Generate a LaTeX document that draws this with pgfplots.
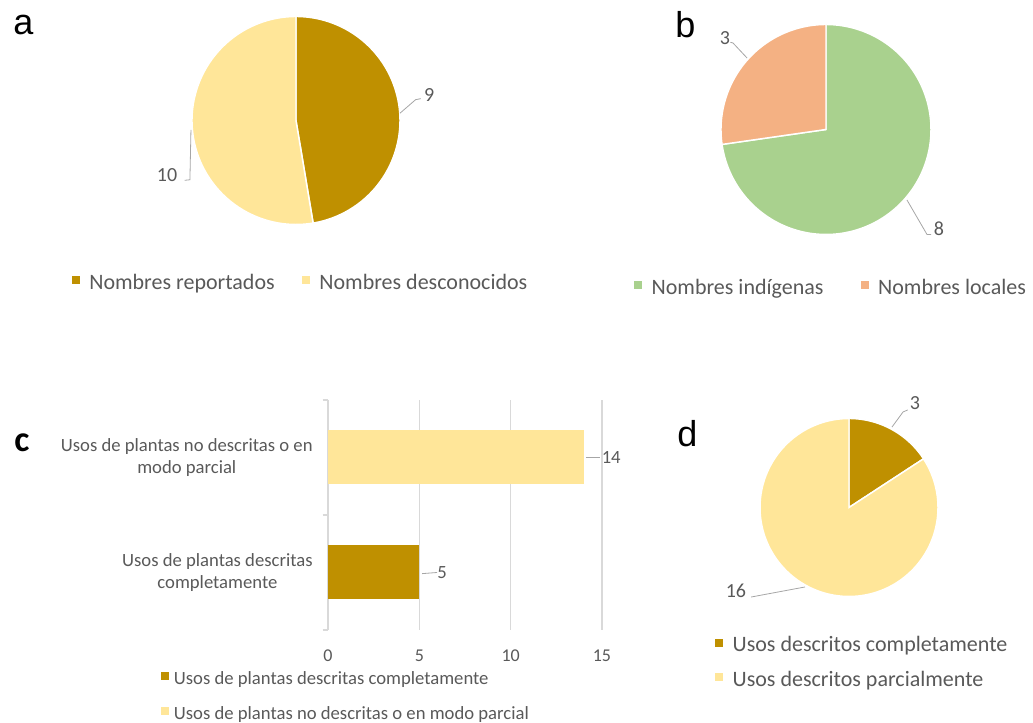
\documentclass[border=0pt]{standalone}
\usepackage{pgfplots}
\pgfplotsset{compat=1.18}
\usepackage{pgfplotstable}
\usepackage{fontspec}
\setmainfont{Carlito}
\newfontfamily\letra{Liberation Sans}

\definecolor{oro}{HTML}{BF9000}
\definecolor{crema}{HTML}{FFE699}
\definecolor{verde}{HTML}{A9D18E}
\definecolor{salmon}{HTML}{F4B183}
\definecolor{texto}{HTML}{595959}
\definecolor{guia}{HTML}{A6A6A6}
\definecolor{rejilla}{HTML}{D9D9D9}

% (a) nombres
\pgfplotstableread{
categoria valor
reportados 9
desconocidos 10
}\tablaA
% (b) tipo de nombre
\pgfplotstableread{
categoria valor
indigenas 8
locales 3
}\tablaB
% (d) usos
\pgfplotstableread{
categoria valor
completamente 3
parcialmente 16
}\tablaD

\pgfplotstablegetelem{0}{valor}\of\tablaA \let\aUno\pgfplotsretval
\pgfplotstablegetelem{1}{valor}\of\tablaA \let\aDos\pgfplotsretval
\pgfplotstablegetelem{0}{valor}\of\tablaB \let\bUno\pgfplotsretval
\pgfplotstablegetelem{1}{valor}\of\tablaB \let\bDos\pgfplotsretval
\pgfplotstablegetelem{0}{valor}\of\tablaD \let\dUno\pgfplotsretval
\pgfplotstablegetelem{1}{valor}\of\tablaD \let\dDos\pgfplotsretval
\pgfmathsetmacro\aTot{\aUno+\aDos}
\pgfmathsetmacro\bTot{\bUno+\bDos}
\pgfmathsetmacro\dTot{\dUno+\dDos}

\pgfplotsset{
  % square legend marker with room after it
  cuadro/.style={legend image code/.code={%
      \path[fill=#1, draw=none] (0pt,-1pt) rectangle (6pt,5pt);
      \path[fill=none, draw=none] (0pt,0pt) rectangle (11pt,4pt);}},
  cuadrito/.style={legend image code/.code={%
      \path[fill=#1, draw=none] (0pt,-0.5pt) rectangle (5.5pt,5pt);
      \path[fill=none, draw=none] (0pt,0pt) rectangle (7.5pt,4pt);}},
  pastel/.style={anchor=center, scale only axis, hide axis, clip=false,
    xmin=-1, xmax=1, ymin=-1, ymax=1,
    legend style={draw=none, fill=none, text=texto,
      font=\fontsize{16.5}{19}\selectfont}},
}
% one wedge of a pie, clockwise from twelve o'clock: start, end, total, colour
\newcommand\porcion[4]{%
  \addplot[fill=#4, draw=white, line width=1.1pt, cuadro=#4,
    domain=#1:#2, samples=120, variable=\t]
    ({sin(\t*360/#3)},{cos(\t*360/#3)}) -- (axis cs:0,0) -- cycle;}

\tikzset{etiqueta/.style={text=texto, font=\fontsize{15}{18}\selectfont, inner sep=0pt},
         guialinea/.style={draw=guia, line width=0.6pt}}

\begin{document}
\begin{tikzpicture}
\path[use as bounding box] (0,0) rectangle (774.75pt,542.25pt);

% ---------- a ----------
\begin{axis}[pastel, at={(222pt,451.875pt)}, width=156pt, height=156pt,
  legend columns=2,
  legend style={at={(0.524,-0.281)}, anchor=center,
    /tikz/every even column/.append style={column sep=18.5pt}}]
\porcion{0}{\aUno}{\aTot}{oro}
\addlegendentry{Nombres reportados}
\porcion{\aUno}{\aTot}{\aTot}{crema}
\addlegendentry{Nombres desconocidos}
\draw[guialinea] (axis cs:1.0,0.07) -- (axis cs:1.15,0.2) -- (axis cs:1.2,0.21);
\node[etiqueta] at (axis cs:1.28,0.245) {\aUno};
\draw[guialinea] (axis cs:-1.01,-0.09) -- (axis cs:-1.02,-0.57) -- (axis cs:-1.07,-0.575);
\node[etiqueta] at (axis cs:-1.24,-0.524) {\aDos};
\end{axis}

% ---------- b ----------
\begin{axis}[pastel, at={(619.5pt,445.125pt)}, width=157.5pt, height=157.5pt,
  legend columns=2,
  legend style={at={(0.526,-0.255)}, anchor=center,
    /tikz/every even column/.append style={column sep=26pt}}]
\porcion{0}{\bUno}{\bTot}{verde}
\addlegendentry{Nombres indígenas}
\porcion{\bUno}{\bTot}{\bTot}{salmon}
\addlegendentry{Nombres locales}
\draw[guialinea] (axis cs:-0.752,0.681) -- (axis cs:-0.886,0.824) -- (axis cs:-0.91,0.83);
\node[etiqueta] at (axis cs:-0.962,0.871) {\bDos};
\draw[guialinea] (axis cs:0.771,-0.671) -- (axis cs:0.962,-1.0) -- (axis cs:1.0,-1.0);
\node[etiqueta] at (axis cs:1.076,-0.948) {\bUno};
\end{axis}

% ---------- d ----------
\begin{axis}[pastel, at={(636.75pt,161.625pt)}, width=133.5pt, height=133.5pt,
  legend cell align=left,
  legend style={at={(-0.275,-0.194)}, anchor=north west, row sep=9pt}]
\porcion{0}{\dUno}{\dTot}{oro}
\addlegendentry{Usos descritos completamente}
\porcion{\dUno}{\dTot}{\dTot}{crema}
\addlegendentry{Usos descritos parcialmente}
\draw[guialinea] (axis cs:0.483,0.904) -- (axis cs:0.607,1.073) -- (axis cs:0.66,1.096);
\node[etiqueta] at (axis cs:0.742,1.174) {\dUno};
\draw[guialinea] (axis cs:-0.494,-0.893) -- (axis cs:-1.1,-1.006);
\node[etiqueta] at (axis cs:-1.27,-0.938) {\dDos};
\end{axis}

% ---------- c ----------
\begin{axis}[at={(246pt,69.75pt)}, anchor=south west, scale only axis,
  width=206.18pt, height=172.5pt,
  xbar, bar width=40.5pt, bar shift=0pt,
  xmin=0, xmax=15.05, ymin=-0.5, ymax=1.5,
  xtick={0,5,10,15}, ytick={0,1},
  yticklabels={{Usos de plantas descritas\\completamente},
               {Usos de plantas no descritas o en\\modo parcial}},
  minor ytick={-0.5,0.5,1.5},
  xtick pos=bottom, ytick pos=left, tick align=outside,
  major tick length=0pt, major tick style={draw=none},
  minor tick length=4pt,
  minor tick style={draw=rejilla, line width=0.8pt},
  axis line style={draw=none},
  xmajorgrids, grid style={draw=rejilla, line width=0.8pt},
  /pgf/number format/assume math mode=true,
  xticklabel style={text=texto, font=\fontsize{13.5}{16}\selectfont, yshift=-11.5pt},
  yticklabel style={text=texto, font=\fontsize{14}{16.5}\selectfont, align=center, xshift=-8pt},
  nodes near coords,
  every node near coord/.append style={text=texto, font=\fontsize{14}{16}\selectfont,
    anchor=west, xshift=10pt},
  clip=false,
  legend cell align=left,
  legend style={at={(-0.622,-0.156)}, anchor=north west, draw=none, fill=none,
    text=texto, font=\fontsize{14}{16.5}\selectfont, row sep=11pt}]
\addplot[fill=oro, draw=none, cuadrito=oro] coordinates {(5,0)};
\addlegendentry{Usos de plantas descritas completamente}
\addplot[fill=crema, draw=none, cuadrito=crema] coordinates {(14,1)};
\addlegendentry{Usos de plantas no descritas o en modo parcial}
\draw[guialinea] (axis cs:14.12,1) -- (axis cs:14.89,1);
\draw[guialinea] (axis cs:5.15,-0.01) -- (axis cs:5.97,0);
\end{axis}

% panel letters
\node[anchor=base west, inner sep=0pt, font=\letra\fontsize{27}{30}\selectfont] at (9.75pt,516pt) {a};
\node[anchor=base west, inner sep=0pt, font=\letra\fontsize{27}{30}\selectfont] at (506.25pt,513.75pt) {b};
\node[anchor=base west, inner sep=0pt, font=\bfseries\fontsize{27}{30}\selectfont] at (10.5pt,203.25pt) {c};
\node[anchor=base west, inner sep=0pt, font=\letra\fontsize{27}{30}\selectfont] at (507.75pt,207pt) {d};
\end{tikzpicture}
\end{document}
